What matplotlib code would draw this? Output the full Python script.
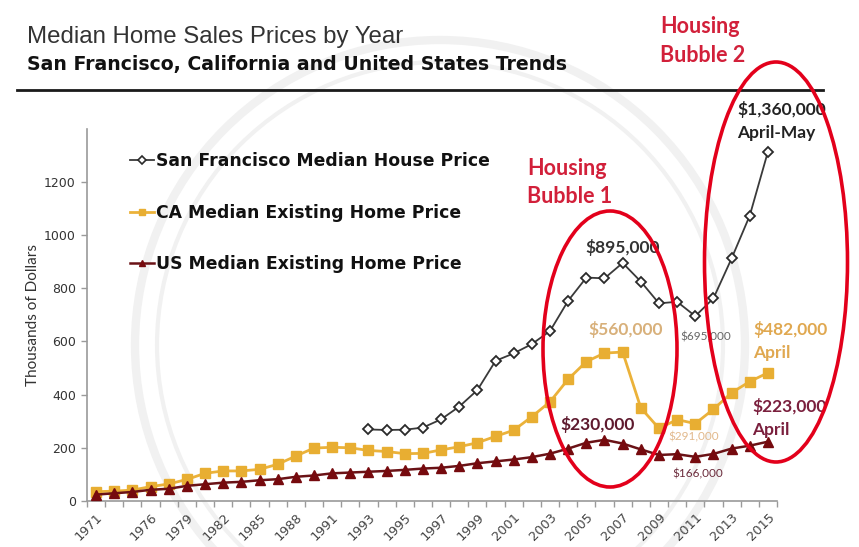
import numpy as np
import matplotlib
matplotlib.use("Agg")
import matplotlib.pyplot as plt
from matplotlib.patches import Ellipse
from matplotlib.lines import Line2D

# ---------------- data ----------------
tick_labels = ["1971", "", "", "1976", "", "1979", "", "1982", "", "1985", "", "1988", "",
               "1991", "", "1993", "", "1995", "", "1997", "", "1999", "", "2001", "",
               "2003", "", "2005", "", "2007", "", "2009", "", "2011", "", "2013", "", "2015"]

sf_values = [None] * 15 + [269, 267, 268, 276, 307, 355, 417, 527, 555, 590, 639, 753,
                           840, 837, 895, 825, 743, 749, 695, 762, 912, 1073, 1313]
ca_values = [35, 37, 41, 54, 64, 81, 104, 113, 113, 119, 138, 169, 199, 202, 200,
             190, 186, 178, 179, 192, 204, 219, 243, 266, 317, 373, 458, 524, 556, 560,
             350, 273, 306, 291, 345, 407, 449, 482]
us_values = [24, 29, 34, 42, 46, 57, 63, 69, 72, 78, 82, 91, 96, 104, 107,
             110, 113, 117, 122, 125, 132, 142, 149, 156, 165, 178, 197, 219, 230,
             216, 194, 173, 176, 166, 177, 197, 208, 223]

series_names = ["San Francisco Median House Price",
                "CA Median Existing Home Price",
                "US Median Existing Home Price"]

y_ticks = [0, 200, 400, 600, 800, 1000, 1200]

# ---------------- figure ----------------
W, H = 859, 547
fig = plt.figure(figsize=(W / 100, H / 100), dpi=100)
fig.patch.set_facecolor("white")


def px(x, y):
    return (x / W, 1 - y / H)


# faint watermark rings
for r, lw in [(305, 6), (283, 3)]:
    c = Ellipse(px(440, 345), 2 * r / W, 2 * r / H, transform=fig.transFigure,
                fill=False, edgecolor="#f1f1f1", lw=lw, zorder=-5)
    fig.patches.append(c)

ax = fig.add_axes([87 / W, 46 / H, 690 / W, (501 - 128.6) / H])
ax.set_facecolor("none")

x = np.arange(len(tick_labels))
sf = np.array([np.nan if v is None else v for v in sf_values], dtype=float)
ca = np.array(ca_values, dtype=float)
us = np.array(us_values, dtype=float)

ax.plot(x, ca, color="#EBB23A", lw=2.0, marker="s", ms=6.5, mfc="#E8AE32",
        mec="#E8AE32", zorder=3, label=series_names[1])
ax.plot(x, us, color="#6A1216", lw=1.8, marker="^", ms=6.5, mfc="#760A0E",
        mec="#760A0E", zorder=3, label=series_names[2])
ax.plot(x, sf, color="#3a3a3a", lw=1.3, marker="D", ms=5.3, mfc="white",
        mec="#2a2a2a", mew=1.3, zorder=4, label=series_names[0])

ax.set_xlim(-0.5, len(tick_labels) - 0.5)
ax.set_ylim(0, 1400)
ax.set_yticks(y_ticks)
ax.set_yticklabels([str(v) for v in y_ticks], fontsize=9, color="#333333")
ax.set_xticks(x)
ax.set_xticklabels(tick_labels, rotation=45, ha="right", va="top",
                   rotation_mode="anchor", fontsize=9.3, color="#444444")
ax.set_xticks(np.arange(-0.5, len(tick_labels), 1), minor=True)
ax.tick_params(axis="x", which="major", length=0, pad=7)
ax.tick_params(axis="x", which="minor", length=4, color="#9a9a9a", width=1)
ax.tick_params(axis="y", length=4, color="#9a9a9a", width=1, pad=4)
for s in ["top", "right"]:
    ax.spines[s].set_visible(False)
for s in ["left", "bottom"]:
    ax.spines[s].set_color("#9a9a9a")
    ax.spines[s].set_linewidth(1.2)

ax.set_ylabel("Thousands of Dollars", fontsize=11, family="Lato", color="#333333",
              labelpad=3)

# legend
handles = [
    Line2D([], [], color="#3a3a3a", lw=1.3, marker="D", ms=4, mfc="white", mec="#2a2a2a", mew=1.2),
    Line2D([], [], color="#EBB23A", lw=2.0, marker="s", ms=5, mfc="#E8AE32", mec="#E8AE32"),
    Line2D([], [], color="#6A1216", lw=1.8, marker="^", ms=5, mfc="#760A0E", mec="#760A0E"),
]
leg = fig.legend(handles, series_names, loc="upper left", bbox_to_anchor=px(130, 152),
                 bbox_transform=fig.transFigure, frameon=False,
                 prop={"family": "DejaVu Sans", "weight": "bold", "size": 12.4},
                 labelspacing=1.95, handlelength=1.4, handletextpad=0.1,
                 borderpad=0, borderaxespad=0)
for t in leg.get_texts():
    t.set_color("#111111")

# titles and rule
fig.text(*px(27, 43), "Median Home Sales Prices by Year", fontsize=17.3,
         family="Liberation Sans", color="#333333", va="baseline")
fig.text(*px(27, 70), "San Francisco, California and United States Trends", fontsize=13.6,
         family="DejaVu Sans", weight="bold", color="#111111", va="baseline")
fig.add_artist(Line2D([17 / W, 823 / W], [1 - 90 / H, 1 - 90 / H], color="#1a1a1a", lw=2,
                      transform=fig.transFigure))

# annotations
def note(xp, yp, s, color, size=12.5, weight="bold", **kw):
    fig.text(*px(xp, yp), s, fontsize=size, family="Lato", weight=weight,
             color=color, va="baseline", ha="left", zorder=6, **kw)

red = "#D2203A"
note(527, 175, "Housing", red, 15.5)
note(527, 203, "Bubble 1", red, 15.5)
note(660, 33, "Housing", red, 15.5)
note(660, 62, "Bubble 2", red, 15.5)
note(737, 115, "$1,360,000", "#222222")
note(737, 138, "April-May", "#222222")
note(585, 253, "$895,000", "#333333")
note(588, 335, "$560,000", "#D8B07A",
     bbox=dict(facecolor="white", edgecolor="none", pad=1))
note(680, 340, "$695,000", "#666666", 8.5, "normal")
note(753, 335, "$482,000", "#E0A850")
note(753, 358, "April", "#E0A850")
note(752, 412, "$223,000", "#7A1F3D")
note(752, 435, "April", "#7A1F3D")
note(560, 430, "$230,000", "#5E1A2E")
note(668, 440, "$291,000", "#E2B98C", 8.5, "normal")
note(672, 477, "$166,000", "#6B2B3B", 8.5, "normal")

# bubble ellipses (pixel-defined, drawn in figure space)
for (cx, cy, w, h) in [(610, 349, 134, 276), (776, 262, 143, 400)]:
    e = Ellipse(px(cx, cy), w / W, h / H, transform=fig.transFigure, fill=False,
                edgecolor="#E3001B", lw=2.6, zorder=10)
    fig.add_artist(e)

fig.savefig("out.png", dpi=100, facecolor="white")
